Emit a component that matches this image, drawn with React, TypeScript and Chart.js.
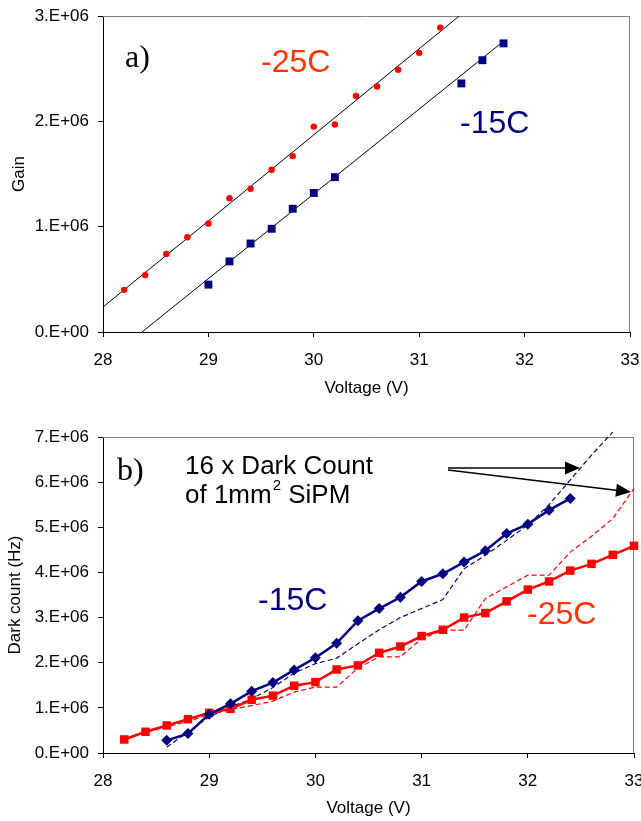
import React, { useEffect, useRef } from "react";
import { Chart, registerables } from "chart.js";
Chart.register(...registerables);

// ---------- Data: panel a) Gain vs Voltage ----------
const gain25X = [28.2, 28.4, 28.6, 28.8, 29.0, 29.2, 29.4, 29.6, 29.8, 30.0, 30.2, 30.4, 30.6, 30.8, 31.0, 31.2];
const gain25Y = [0.40e6, 0.54e6, 0.74e6, 0.90e6, 1.03e6, 1.27e6, 1.36e6, 1.54e6, 1.67e6, 1.95e6, 1.97e6, 2.24e6, 2.33e6, 2.49e6, 2.65e6, 2.89e6];
const gain15X = [29.0, 29.2, 29.4, 29.6, 29.8, 30.0, 30.2, 31.4, 31.6, 31.8];
const gain15Y = [0.45e6, 0.67e6, 0.84e6, 0.98e6, 1.17e6, 1.32e6, 1.47e6, 2.36e6, 2.58e6, 2.74e6];
const trend25X = [28.0, 31.38];
const trend25Y = [0.237e6, 3.0e6];
const trend15X = [28.37, 31.8];
const trend15Y = [0.0, 2.76e6];

// ---------- Data: panel b) Dark count vs Voltage ----------
const dark15X = [28.6, 28.8, 29.0, 29.2, 29.4, 29.6, 29.8, 30.0, 30.2, 30.4, 30.6, 30.8, 31.0, 31.2, 31.4, 31.6, 31.8, 32.0, 32.2, 32.4];
const dark15Y = [0.28e6, 0.43e6, 0.86e6, 1.09e6, 1.37e6, 1.56e6, 1.84e6, 2.11e6, 2.43e6, 2.93e6, 3.20e6, 3.45e6, 3.80e6, 3.97e6, 4.23e6, 4.48e6, 4.86e6, 5.07e6, 5.38e6, 5.64e6];
const dark25X = [28.2, 28.4, 28.6, 28.8, 29.0, 29.2, 29.4, 29.6, 29.8, 30.0, 30.2, 30.4, 30.6, 30.8, 31.0, 31.2, 31.4, 31.6, 31.8, 32.0, 32.2, 32.4, 32.6, 32.8, 33.0, 33.2];
const dark25Y = [0.30e6, 0.47e6, 0.61e6, 0.75e6, 0.89e6, 0.98e6, 1.18e6, 1.27e6, 1.49e6, 1.57e6, 1.85e6, 1.94e6, 2.22e6, 2.36e6, 2.59e6, 2.73e6, 3.00e6, 3.10e6, 3.36e6, 3.62e6, 3.80e6, 4.04e6, 4.19e6, 4.39e6, 4.59e6, 4.80e6];
const sipm15X = [28.6, 28.8, 29.0, 29.2, 29.4, 29.6, 29.8, 30.0, 30.2, 30.4, 30.6, 30.8, 31.0, 31.2, 31.4, 31.6, 31.8, 32.0, 32.2, 32.4, 32.6, 32.8];
const sipm15Y = [0.13e6, 0.47e6, 0.80e6, 1.02e6, 1.20e6, 1.45e6, 1.77e6, 1.98e6, 2.10e6, 2.42e6, 2.73e6, 3.00e6, 3.20e6, 3.40e6, 4.08e6, 4.38e6, 4.71e6, 5.05e6, 5.50e6, 6.05e6, 6.60e6, 7.11e6];
const sipm25X = [28.2, 28.4, 28.6, 28.8, 29.0, 29.2, 29.4, 29.6, 29.8, 30.0, 30.2, 30.4, 30.6, 30.8, 31.0, 31.2, 31.4, 31.6, 31.8, 32.0, 32.2, 32.4, 32.6, 32.8, 33.0];
const sipm25Y = [0.30e6, 0.46e6, 0.58e6, 0.70e6, 0.85e6, 0.96e6, 1.05e6, 1.15e6, 1.35e6, 1.46e6, 1.46e6, 1.88e6, 2.13e6, 2.13e6, 2.53e6, 2.72e6, 2.72e6, 3.42e6, 3.68e6, 3.94e6, 3.94e6, 4.45e6, 4.80e6, 5.19e6, 5.86e6];

// ---------- Axis ticks ----------
const voltTicks = [28, 29, 30, 31, 32, 33];
const gainMax = 3e6;
const darkMax = 7e6;
const sciStep = 1e6;

const FONT = "'Liberation Sans', Arial, sans-serif";
const SERIF = "'Liberation Serif', 'Times New Roman', serif";
const RED = "#ff0000";
const RED_TXT = "#ff3300";
const NAVY = "#000080";

const pts = (xs: number[], ys: number[]) => xs.map((x, i) => ({ x, y: ys[i] }));
const fmtSci = (v: number) => (v === 0 ? "0.E+00" : `${Math.round(v / 1e6)}.E+06`);

function xScale() {
  return {
    type: "linear",
    min: voltTicks[0],
    max: voltTicks[voltTicks.length - 1],
    afterBuildTicks: (s: any) => {
      s.ticks = voltTicks.map((v) => ({ value: v }));
    },
    ticks: { color: "#000", padding: 13, maxRotation: 0, autoSkip: false, font: { family: FONT, size: 17 } },
    grid: { drawOnChartArea: false, drawTicks: true, tickLength: 5, color: "#000", lineWidth: 1 },
    border: { display: true, color: "#000", width: 1 },
    afterFit: (s: any) => {
      s.height = 68;
      s.paddingLeft = 0;
      s.paddingRight = 0;
    },
  };
}

function yScale(max: number) {
  return {
    type: "linear",
    min: 0,
    max,
    ticks: {
      stepSize: sciStep,
      color: "#000",
      padding: 9,
      font: { family: FONT, size: 17 },
      callback: (v: any) => fmtSci(Number(v)),
    },
    grid: { drawOnChartArea: false, drawTicks: true, tickLength: 5, color: "#000", lineWidth: 1 },
    border: { display: true, color: "#000", width: 1 },
    afterFit: (s: any) => {
      s.width = 103;
      s.paddingTop = 0;
      s.paddingBottom = 0;
    },
  };
}

function grayBorder(chart: any) {
  const { ctx, chartArea: a } = chart;
  ctx.save();
  ctx.strokeStyle = "#808080";
  ctx.lineWidth = 1;
  ctx.beginPath();
  ctx.moveTo(a.left, Math.round(a.top) + 0.5);
  ctx.lineTo(a.right, Math.round(a.top) + 0.5);
  ctx.moveTo(Math.round(a.right) - 0.5, a.top);
  ctx.lineTo(Math.round(a.right) - 0.5, a.bottom);
  ctx.stroke();
  ctx.restore();
}

function text(ctx: CanvasRenderingContext2D, s: string, x: number, y: number, font: string, color: string, align: CanvasTextAlign = "left") {
  ctx.font = font;
  ctx.fillStyle = color;
  ctx.textAlign = align;
  ctx.textBaseline = "alphabetic";
  ctx.fillText(s, x, y);
}

function rotText(ctx: CanvasRenderingContext2D, s: string, x: number, y: number, font: string) {
  ctx.save();
  ctx.translate(x, y);
  ctx.rotate(-Math.PI / 2);
  ctx.font = font;
  ctx.fillStyle = "#000";
  ctx.textAlign = "center";
  ctx.textBaseline = "middle";
  ctx.fillText(s, 0, 0);
  ctx.restore();
}

function arrow(ctx: CanvasRenderingContext2D, x1: number, y1: number, x2: number, y2: number) {
  const headLen = 15;
  const headHalf = 6.5;
  const ang = Math.atan2(y2 - y1, x2 - x1);
  const bx = x2 - headLen * Math.cos(ang);
  const by = y2 - headLen * Math.sin(ang);
  ctx.strokeStyle = "#000";
  ctx.fillStyle = "#000";
  ctx.lineWidth = 1.5;
  ctx.beginPath();
  ctx.moveTo(x1, y1);
  ctx.lineTo(bx, by);
  ctx.stroke();
  ctx.beginPath();
  ctx.moveTo(x2, y2);
  ctx.lineTo(bx - headHalf * Math.sin(ang), by + headHalf * Math.cos(ang));
  ctx.lineTo(bx + headHalf * Math.sin(ang), by - headHalf * Math.cos(ang));
  ctx.closePath();
  ctx.fill();
}

const topOverlay = {
  id: "topOverlay",
  beforeDatasetsDraw(chart: any) {
    grayBorder(chart);
  },
  afterDraw(chart: any) {
    const ctx = chart.ctx as CanvasRenderingContext2D;
    const a = chart.chartArea;
    ctx.save();
    text(ctx, "a)", 125, 67, `32px ${SERIF}`, "#000");
    text(ctx, "-25C", 261, 72, `32px ${FONT}`, RED_TXT);
    text(ctx, "-15C", 460, 133, `32px ${FONT}`, NAVY);
    ctx.font = `17px ${FONT}`;
    ctx.fillStyle = "#000";
    ctx.textAlign = "center";
    ctx.textBaseline = "middle";
    ctx.fillText("Voltage (V)", (a.left + a.right) / 2, 388);
    rotText(ctx, "Gain", 19, (a.top + a.bottom) / 2, `17px ${FONT}`);
    ctx.restore();
  },
};

const botOverlay = {
  id: "botOverlay",
  beforeDatasetsDraw(chart: any) {
    grayBorder(chart);
  },
  afterDraw(chart: any) {
    const ctx = chart.ctx as CanvasRenderingContext2D;
    const a = chart.chartArea;
    ctx.save();
    text(ctx, "b)", 117, 80, `32px ${SERIF}`, "#000");
    text(ctx, "16 x Dark Count", 185, 74, `26px ${FONT}`, "#000");
    const f = `26px ${FONT}`;
    ctx.font = f;
    const part1 = "of 1mm";
    const w1 = ctx.measureText(part1).width;
    text(ctx, part1, 185, 103, f, "#000");
    text(ctx, "2", 185 + w1 + 1, 90, `15px ${FONT}`, "#000");
    ctx.font = `15px ${FONT}`;
    const w2 = ctx.measureText("2").width;
    text(ctx, " SiPM", 185 + w1 + 1 + w2, 103, f, "#000");
    text(ctx, "-15C", 258, 210, `32px ${FONT}`, NAVY);
    text(ctx, "-25C", 527, 224, `32px ${FONT}`, RED_TXT);
    arrow(ctx, 448, 68, 580, 68);
    arrow(ctx, 448, 70, 631, 92);
    ctx.font = `17px ${FONT}`;
    ctx.fillStyle = "#000";
    ctx.textAlign = "center";
    ctx.textBaseline = "middle";
    ctx.fillText("Voltage (V)", (a.left + a.right) / 2, 408);
    rotText(ctx, "Dark count (Hz)", 15, (a.top + a.bottom) / 2, `17px ${FONT}`);
    ctx.restore();
  },
};

function topConfig(): any {
  return {
    type: "scatter",
    data: {
      datasets: [
        { data: pts(gain25X, gain25Y), pointStyle: "circle", pointRadius: 3.2, backgroundColor: RED, borderWidth: 0, showLine: false },
        { data: pts(gain15X, gain15Y), pointStyle: "rect", pointRadius: 5.6, backgroundColor: NAVY, borderWidth: 0, showLine: false },
        { data: pts(trend25X, trend25Y), showLine: true, pointRadius: 0, borderColor: "#000", borderWidth: 1, tension: 0 },
        { data: pts(trend15X, trend15Y), showLine: true, pointRadius: 0, borderColor: "#000", borderWidth: 1, tension: 0 },
      ],
    },
    options: {
      animation: false,
      responsive: false,
      devicePixelRatio: 1,
      events: [],
      layout: { padding: { left: 0, top: 16, right: 11, bottom: 0 } },
      plugins: { legend: { display: false }, tooltip: { enabled: false } },
      scales: { x: xScale(), y: yScale(gainMax) },
    },
    plugins: [topOverlay],
  };
}

function botConfig(): any {
  return {
    type: "scatter",
    data: {
      datasets: [
        { data: pts(dark15X, dark15Y), showLine: true, tension: 0, borderColor: NAVY, borderWidth: 2.5, pointStyle: "rectRot", pointRadius: 5.5, backgroundColor: NAVY, pointBorderWidth: 0 },
        { data: pts(dark25X, dark25Y), showLine: true, tension: 0, borderColor: RED, borderWidth: 2.5, pointStyle: "rect", pointRadius: 6, backgroundColor: RED, pointBorderWidth: 0, clip: false },
        { data: pts(sipm15X, sipm15Y), showLine: true, tension: 0, borderColor: NAVY, borderWidth: 1.2, borderDash: [5, 3], pointRadius: 0, clip: false },
        { data: pts(sipm25X, sipm25Y), showLine: true, tension: 0, borderColor: RED, borderWidth: 1.2, borderDash: [5, 3], pointRadius: 0, clip: false },
      ],
    },
    options: {
      animation: false,
      responsive: false,
      devicePixelRatio: 1,
      events: [],
      layout: { padding: { left: 0, top: 37, right: 7, bottom: 0 } },
      plugins: { legend: { display: false }, tooltip: { enabled: false } },
      scales: { x: xScale(), y: yScale(darkMax) },
    },
    plugins: [botOverlay],
  };
}

export default function App() {
  const topRef = useRef<HTMLCanvasElement>(null);
  const botRef = useRef<HTMLCanvasElement>(null);
  useEffect(() => {
    const c1 = new Chart(topRef.current as HTMLCanvasElement, topConfig());
    const c2 = new Chart(botRef.current as HTMLCanvasElement, botConfig());
    return () => {
      c1.destroy();
      c2.destroy();
    };
  }, []);
  return (
    <div style={{ position: "absolute", left: 0, top: 0, width: 641, height: 821, background: "#fff", overflow: "hidden" }}>
      <canvas ref={topRef} width={641} height={400} style={{ position: "absolute", left: 0, top: 0, width: 641, height: 400 }} />
      <canvas ref={botRef} width={641} height={421} style={{ position: "absolute", left: 0, top: 400, width: 641, height: 421 }} />
    </div>
  );
}
